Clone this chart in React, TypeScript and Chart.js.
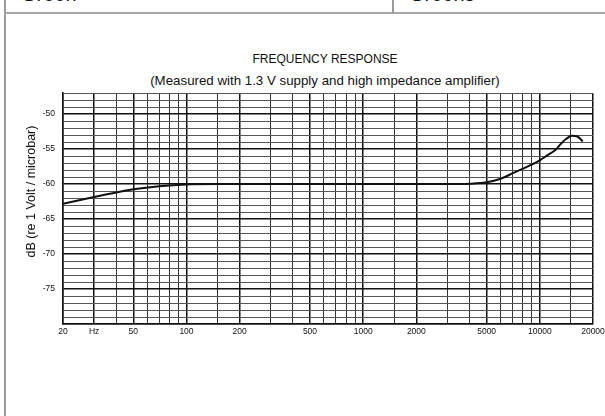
import React, { useEffect, useRef } from 'react';
import { Chart, registerables } from 'chart.js';

Chart.register(...registerables);

// Frequency response curve (Hz -> dB re 1 V/microbar)
const frequencies = [20, 30, 40, 50, 70, 100, 150, 300, 1000, 3000, 4000, 5000, 6000, 7100, 8500, 10000, 11000, 12300, 13100, 14000, 15200, 16300, 17500];
const responseDb = [-62.8, -61.85, -61.2, -60.75, -60.3, -60.05, -60, -60, -60, -60, -59.95, -59.75, -59.25, -58.4, -57.5, -56.6, -55.9, -55.1, -54.3, -53.6, -53.1, -53.2, -53.9];

// Graph paper grid / tick labels
const freqGridTicks = [20, 30, 40, 50, 60, 70, 80, 90, 100, 150, 200, 300, 400, 500, 600, 700, 800, 900, 1000, 1500, 2000, 3000, 4000, 5000, 6000, 7000, 8000, 9000, 10000, 15000, 20000];
const freqTickValues = [20, 30, 50, 100, 200, 500, 1000, 2000, 5000, 10000, 20000];
const freqTickLabels = ['20', 'Hz', '50', '100', '200', '500', '1000', '2000', '5000', '10000', '20000'];
const dbGridTicks = [-80, -79, -78, -77, -76, -75, -74, -73, -72, -71, -70, -69, -68, -67, -66, -65, -64, -63, -62, -61, -60, -59, -58, -57, -56, -55, -54, -53, -52, -51, -50, -49, -48, -47];
const dbTickValues = [-50, -55, -60, -65, -70, -75];
const dbTickLabels = ['-50', '-55', '-60', '-65', '-70', '-75'];

const titleText = 'FREQUENCY RESPONSE';
const subtitleText = '(Measured with 1.3 V supply and high impedance amplifier)';
const yTitleText = 'dB (re 1 Volt / microbar)';
const headerLeft = 'Green';
const headerRight = 'Greens';

const FONT = "'Liberation Sans', Arial, Helvetica, sans-serif";

// Draws the y tick labels (through the y scale) and the rotated y-axis title
const yAxisTextPlugin = {
  id: 'yAxisTextPlugin',
  afterDraw(chart: any) {
    const { ctx, chartArea } = chart;
    const yScale = chart.scales.y;
    ctx.save();
    ctx.fillStyle = '#111';
    ctx.font = `8.5px ${FONT}`;
    ctx.textAlign = 'right';
    ctx.textBaseline = 'middle';
    dbTickValues.forEach((v, i) => {
      ctx.fillText(dbTickLabels[i], chartArea.left - 8, yScale.getPixelForValue(v));
    });
    ctx.restore();

    ctx.save();
    ctx.fillStyle = '#111';
    ctx.font = `12.5px ${FONT}`;
    ctx.textAlign = 'center';
    ctx.textBaseline = 'middle';
    ctx.translate(chartArea.left - 31, (chartArea.top + chartArea.bottom) / 2 - 17);
    ctx.rotate(-Math.PI / 2);
    ctx.fillText(yTitleText, 0, 0);
    ctx.restore();
  },
};

export default function App() {
  const canvasRef = useRef<HTMLCanvasElement | null>(null);

  useEffect(() => {
    if (!canvasRef.current) return;
    const data = frequencies.map((f, i) => ({ x: f, y: responseDb[i] }));
    const chart = new Chart(canvasRef.current, {
      type: 'line',
      data: {
        datasets: [
          {
            data,
            borderColor: '#111',
            borderWidth: 2,
            pointRadius: 0,
            fill: false,
            cubicInterpolationMode: 'monotone',
          },
        ],
      },
      plugins: [yAxisTextPlugin],
      options: {
        animation: false,
        responsive: false,
        maintainAspectRatio: false,
        layout: { padding: { left: 0, right: 32, top: 11, bottom: 0 } },
        plugins: {
          legend: { display: false },
          tooltip: { enabled: false },
          title: { display: false },
        },
        scales: {
          x: {
            type: 'logarithmic',
            min: 20,
            max: 20000,
            afterBuildTicks: (scale: any) => {
              scale.ticks = freqGridTicks.map((v) => ({ value: v }));
            },
            afterFit: (scale: any) => {
              scale.height = 26;
            },
            ticks: {
              autoSkip: false,
              maxRotation: 0,
              minRotation: 0,
              padding: 3,
              color: '#111',
              font: { family: FONT, size: 8.5 },
              callback: (value: any) => {
                const i = freqTickValues.indexOf(Math.round(Number(value)));
                return i >= 0 ? freqTickLabels[i] : '';
              },
            },
            grid: {
              drawTicks: false,
              color: (ctx: any) => {
                const v = ctx.tick ? ctx.tick.value : 0;
                return freqTickValues.includes(v) ? '#111' : '#333';
              },
              lineWidth: (ctx: any) => {
                const v = ctx.tick ? ctx.tick.value : 0;
                return freqTickValues.includes(v) ? 1.5 : 1;
              },
            },
            border: { display: true, color: '#111', width: 1.5 },
          },
          y: {
            type: 'linear',
            min: -80,
            max: -47,
            afterBuildTicks: (scale: any) => {
              scale.ticks = dbGridTicks.map((v) => ({ value: v }));
            },
            afterFit: (scale: any) => {
              scale.width = 63;
            },
            ticks: {
              autoSkip: false,
              padding: 8,
              color: '#111',
              font: { family: FONT, size: 8.5 },
              callback: () => '',
            },
            grid: {
              drawTicks: false,
              color: (ctx: any) => {
                const v = ctx.tick ? Math.round(ctx.tick.value) : 0;
                return v % 5 === 0 ? '#111' : '#555';
              },
              lineWidth: (ctx: any) => {
                const v = ctx.tick ? Math.round(ctx.tick.value) : 0;
                return v % 5 === 0 ? 1.5 : 1;
              },
            },
            border: { display: true, color: '#111', width: 1.5 },
          },
        },
      },
    } as any);
    return () => chart.destroy();
  }, []);

  return (
    <div
      style={{
        position: 'fixed',
        left: 0,
        top: 0,
        width: 605,
        height: 416,
        overflow: 'hidden',
        background: '#fff',
        fontFamily: FONT,
        color: '#111',
      }}
    >
      <div style={{ position: 'absolute', left: 4, top: 0, width: 2, height: 416, background: '#9c9c9c' }} />
      <div style={{ position: 'absolute', left: 4, top: 12, width: 601, height: 1.5, background: '#a8a8a8' }} />
      <div style={{ position: 'absolute', left: 392, top: 0, width: 1.5, height: 13, background: '#9c9c9c' }} />
      <div style={{ position: 'absolute', left: 21, top: -16, fontSize: 20, lineHeight: '20px', whiteSpace: 'nowrap' }}>
        {headerLeft}
      </div>
      <div style={{ position: 'absolute', left: 409, top: -16, fontSize: 20, lineHeight: '20px', whiteSpace: 'nowrap' }}>
        {headerRight}
      </div>
      <div
        style={{
          position: 'absolute',
          left: 125,
          width: 400,
          top: 51,
          textAlign: 'center',
          fontSize: 12,
          lineHeight: '16px',
          whiteSpace: 'nowrap',
        }}
      >
        {titleText}
      </div>
      <div
        style={{
          position: 'absolute',
          left: 75,
          width: 500,
          top: 73,
          textAlign: 'center',
          fontSize: 13.3,
          lineHeight: '16px',
          whiteSpace: 'nowrap',
        }}
      >
        {subtitleText}
      </div>
      <canvas
        ref={canvasRef}
        width={625}
        height={270}
        style={{ position: 'absolute', left: 0, top: 80, width: 625, height: 270 }}
      />
    </div>
  );
}
